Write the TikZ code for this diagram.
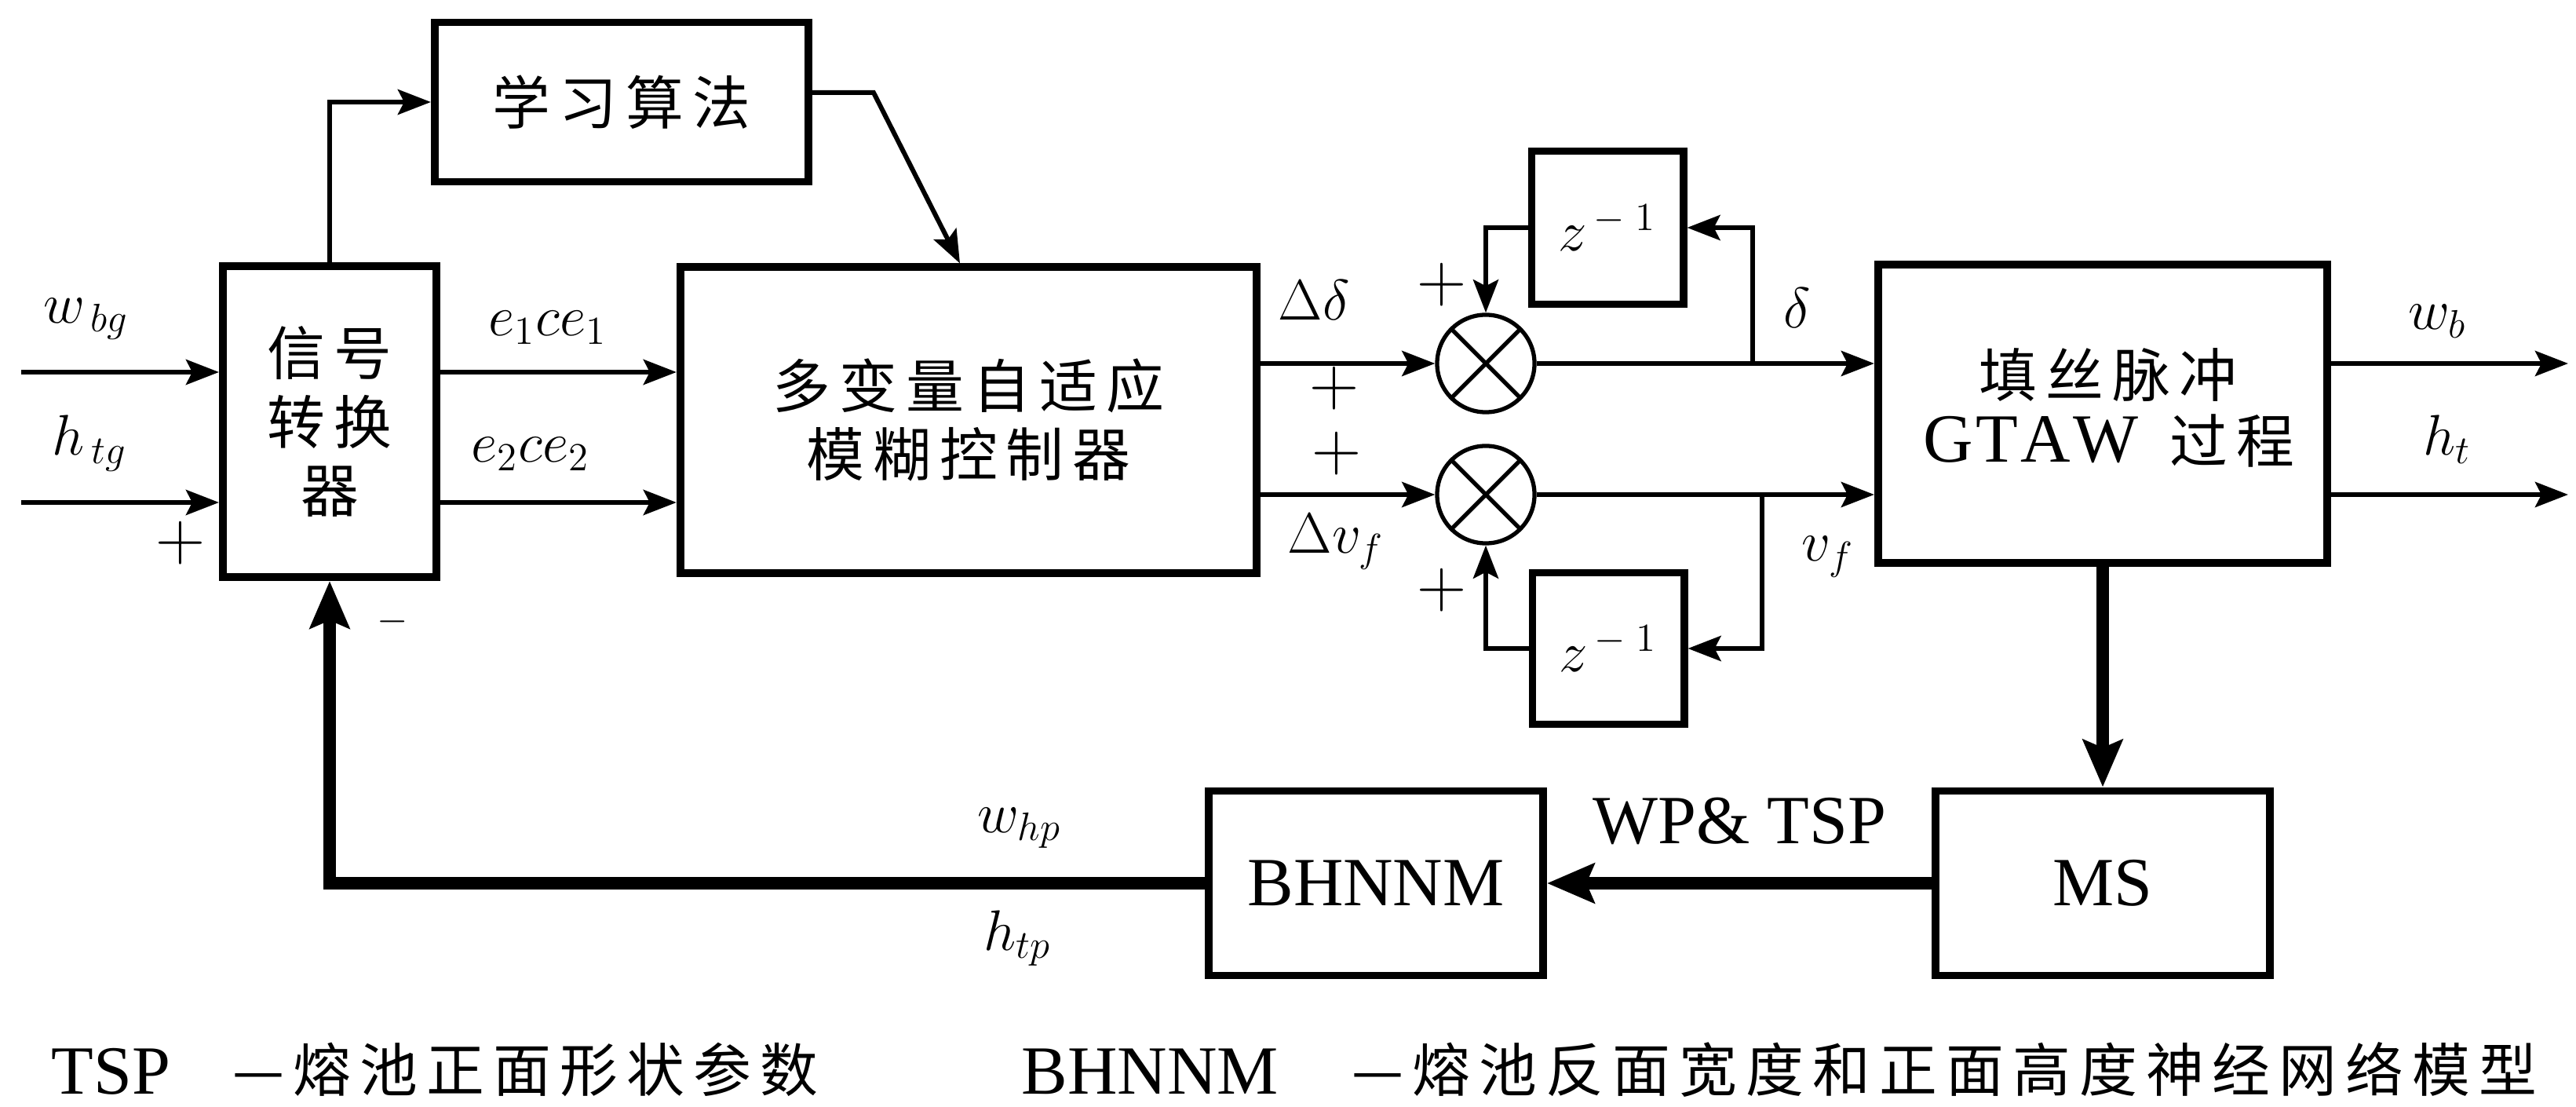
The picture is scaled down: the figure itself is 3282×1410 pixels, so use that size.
\documentclass[tikz,border=0pt]{standalone}
\usepackage{fontspec}
\setmainfont{Liberation Serif}
\newfontfamily\cjk[LetterSpace=15]{Noto Sans CJK SC}
\usetikzlibrary{arrows.meta}
\newcommand\cnsz{\fontsize{21pt}{24.8pt}\selectfont\cjk}
\newcommand\lasz{\fontsize{25pt}{30pt}\selectfont}
\newcommand\masz{\fontsize{22pt}{26pt}\selectfont}
\begin{document}
\begin{tikzpicture}[x=0.01cm,y=-0.01cm,
  blk/.style={draw,line width=2.8pt,inner sep=0pt,align=center},
  mix/.style={circle,draw,line width=1.5pt,minimum size=1.24cm,inner sep=0pt},
  conn/.style={line width=1.7pt,-{Stealth[length=0.42cm,width=0.32cm,inset=0.08cm]}},
  heavy/.style={line width=4.3pt,-{Stealth[length=0.6cm,width=0.5cm,inset=0.1cm]}},
  lab/.style={inner sep=0pt,anchor=base west,font=\masz},
  pl/.style={inner sep=0pt,font=\fontsize{25pt}{30pt}\selectfont},
  captxt/.style={inner sep=0pt,anchor=base west}]
\useasboundingbox (0,0) rectangle (3282,1410);

% blocks
\node[blk,minimum width=4.76cm,minimum height=2.03cm,font=\cnsz] (learn) at (792,130) {学习算法};
\node[blk,minimum width=2.72cm,minimum height=3.96cm,font=\cnsz] (sig) at (420,537) {信号\\转换\\器};
\node[blk,minimum width=7.34cm,minimum height=3.89cm,font=\cnsz] (ctl) at (1234,535) {多变量自适应\\模糊控制器};
\node[blk,minimum width=1.93cm,minimum height=1.95cm,font=\masz] (d1) at (2048,290) {$z^{\,-\;1}$};
\node[blk,minimum width=1.93cm,minimum height=1.93cm,font=\masz] (d2) at (2049,826) {$z^{\,-\;1}$};
\node[mix] (m1) at (1893,463) {};
\node[mix] (m2) at (1893,630) {};
\draw[line width=1.5pt] (m1.north east) -- (m1.south west) (m1.north west) -- (m1.south east);
\draw[line width=1.5pt] (m2.north east) -- (m2.south west) (m2.north west) -- (m2.south east);
\node[blk,minimum width=5.72cm,minimum height=3.79cm] (gtaw) at (2679,527) {};
\node[inner sep=0pt,font=\cnsz] (gt1) at (2686,478) {填丝脉冲};
\node[inner sep=0pt,anchor=base west,font=\lasz] (gt2) at (2450,589) {G\kern1pt T\kern1pt A\kern1pt W};
\node[inner sep=0pt,anchor=base west,font=\cnsz] (gt3) at (2764,590) {过程};
\node[blk,minimum width=4.26cm,minimum height=2.35cm,font=\lasz] (ms) at (2679,1125) {MS};
\node[blk,minimum width=4.26cm,minimum height=2.35cm,font=\lasz] (bh) at (1753,1125) {BHNNM};

% coordinates
\coordinate (wbgin) at (27,474);
\coordinate (htgin) at (27,640);
\coordinate (ch1) at (0,463);
\coordinate (ch2) at (0,630);
\coordinate (tap1) at (2233,463);
\coordinate (tap2) at (2245,630);
\coordinate (wbout) at (3272,463);
\coordinate (htout) at (3272,630);
\coordinate (knee) at (1113,118);
\coordinate (ltip) at (1223,0);

% connectors
\draw[conn] (wbgin) -- (wbgin -| sig.west);
\draw[conn] (htgin) -- (htgin -| sig.west);
\draw[conn] (sig.east |- wbgin) -- (ctl.west |- wbgin);
\draw[conn] (sig.east |- htgin) -- (ctl.west |- htgin);
\draw[conn] (sig.north) |- (learn.west);
\draw[conn] (learn.east |- knee) -- (knee) -- (ctl.north -| ltip);
\draw[conn] (ctl.east |- ch1) -- (m1.west);
\draw[conn] (ctl.east |- ch2) -- (m2.west);
\draw[conn] (m1.east) -- (gtaw.west |- ch1);
\draw[conn] (m2.east) -- (gtaw.west |- ch2);
\draw[conn] (tap1) |- (d1.east);
\draw[conn] (d1.west) -| (m1.north);
\draw[conn] (tap2) |- (d2.east);
\draw[conn] (d2.west) -| (m2.south);
\draw[conn] (gtaw.east |- ch1) -- (wbout);
\draw[conn] (gtaw.east |- ch2) -- (htout);
\draw[heavy] (gtaw.south) -- (ms.north);
\draw[heavy] (ms.west) -- (bh.east);
\draw[heavy] (bh.west) -| (sig.south);

% labels
\node[lab] (lwbg) at (55,412) {$w_{\,bg}$};
\node[lab] (lhtg) at (66,580) {$h_{\,tg}$};
\node[lab] (le1) at (622,428) {$e_1ce_1$};
\node[lab] (le2) at (600,589) {$e_2ce_2$};
\node[lab] (ldd) at (1628,408) {$\Delta\delta$};
\node[lab] (ldv) at (1640,705) {$\Delta v_f$};
\node[lab] (ld) at (2272,418) {$\delta$};
\node[lab] (lv) at (2295,715) {$v_f$};
\node[lab] (lwb) at (3068,420) {$w_b$};
\node[lab] (lht) at (3087,580) {$h_t$};
\node[lab] (lwhp) at (1245,1060) {$w_{hp}$};
\node[lab] (lhtp) at (1253,1210) {$h_{tp}$};
\node[pl] (p1) at (230,692) {$+$};
\node[pl] (p2) at (1700,495) {$+$};
\node[pl] (p3) at (1703,578) {$+$};
\node[pl] (p4) at (1837,363) {$+$};
\node[pl] (p5) at (1837,752) {$+$};
\node[inner sep=0pt,font=\fontsize{14pt}{16pt}\selectfont] (mn) at (500,792) {$-$};
\node[inner sep=0pt,font=\lasz] (lwp) at (2216,1046) {WP\& TSP};

% caption
\node[captxt,font=\lasz] (c1) at (65,1393) {TSP};
\node[captxt,font=\cnsz] (c2) at (296,1390) {—熔池正面形状参数};
\node[captxt,font=\lasz] (c3) at (1301,1393) {BHNNM};
\node[captxt,font=\cnsz] (c4) at (1722,1390) {—熔池反面宽度和正面高度神经网络模型};
\end{tikzpicture}
\end{document}
